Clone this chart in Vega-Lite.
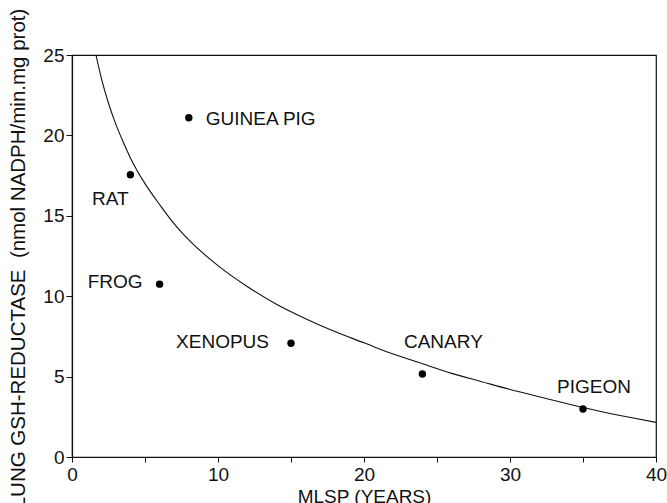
{
  "$schema": "https://vega.github.io/schema/vega-lite/v6.json",
  "autosize": {"type": "none"},
  "width": 584,
  "height": 402,
  "padding": {"left": 72, "top": 55, "right": 11, "bottom": 46},
  "background": "white",
  "config": {
    "view": {"stroke": "#111", "strokeWidth": 1.2},
    "font": "Liberation Sans",
    "axis": {
      "grid": false,
      "domainColor": "#111",
      "tickColor": "#111",
      "labelColor": "#111",
      "titleColor": "#111",
      "labelFont": "Liberation Sans",
      "titleFont": "Liberation Sans",
      "labelFontSize": 19,
      "titleFontSize": 19,
      "titleFontWeight": "normal"
    }
  },
  "datasets": {
    "species": [
      {"name": "GUINEA PIG", "mlsp": 8, "gr": 21.1},
      {"name": "RAT", "mlsp": 4, "gr": 17.55},
      {"name": "FROG", "mlsp": 6, "gr": 10.75},
      {"name": "XENOPUS", "mlsp": 15, "gr": 7.07},
      {"name": "CANARY", "mlsp": 24, "gr": 5.16},
      {"name": "PIGEON", "mlsp": 35, "gr": 2.98}
    ],
    "curve": [
      {"mlsp": 1.64, "gr": 25.0},
      {"mlsp": 2, "gr": 23.6},
      {"mlsp": 2.5, "gr": 22.0},
      {"mlsp": 3, "gr": 20.7},
      {"mlsp": 3.5, "gr": 19.6},
      {"mlsp": 4, "gr": 18.6},
      {"mlsp": 5, "gr": 17.0},
      {"mlsp": 6, "gr": 15.7},
      {"mlsp": 7, "gr": 14.5},
      {"mlsp": 8, "gr": 13.5},
      {"mlsp": 10, "gr": 11.9},
      {"mlsp": 12, "gr": 10.6},
      {"mlsp": 14, "gr": 9.5},
      {"mlsp": 16, "gr": 8.6},
      {"mlsp": 18, "gr": 7.8},
      {"mlsp": 20, "gr": 7.1},
      {"mlsp": 22, "gr": 6.4},
      {"mlsp": 24, "gr": 5.8},
      {"mlsp": 26, "gr": 5.2},
      {"mlsp": 28, "gr": 4.7},
      {"mlsp": 30, "gr": 4.2},
      {"mlsp": 32, "gr": 3.75},
      {"mlsp": 34, "gr": 3.3},
      {"mlsp": 36, "gr": 2.88},
      {"mlsp": 38, "gr": 2.5},
      {"mlsp": 40, "gr": 2.15}
    ]
  },
  "encoding": {
    "x": {
      "field": "mlsp", "type": "quantitative",
      "scale": {"domain": [0, 40], "nice": false, "zero": false},
      "axis": {
        "title": "MLSP (YEARS)",
        "values": [0, 5, 10, 15, 20, 25, 30, 35, 40],
        "labelExpr": "datum.value % 10 === 0 ? datum.label : ''",
        "tickSize": 5, "labelPadding": 3, "labelFlush": false,
        "titleY": 30, "titleBaseline": "top",
        "domainWidth": 1.2
      }
    },
    "y": {
      "field": "gr", "type": "quantitative",
      "scale": {"domain": [0, 25], "nice": false},
      "axis": {
        "title": "LUNG GSH-REDUCTASE \u00a0(nmol NADPH/min.mg prot)",
        "titleFontSize": 20.5,
        "values": [0, 5, 10, 15, 20, 25],
        "tickSize": 6, "labelPadding": 2, "labelFlush": false,
        "titleX": -44, "titleY": 203,
        "domainWidth": 1.2
      }
    }
  },
  "layer": [
    {
      "data": {"name": "curve"},
      "mark": {"type": "line", "color": "#111", "strokeWidth": 1.1, "interpolate": "monotone", "clip": true}
    },
    {
      "data": {"name": "species"},
      "mark": {"type": "circle", "color": "#000", "opacity": 1, "size": 55}
    },
    {
      "data": {"name": "species"},
      "transform": [{"filter": "datum.name === 'GUINEA PIG'"}],
      "mark": {"type": "text", "align": "left", "baseline": "middle", "dx": 17, "dy": 1, "fontSize": 19, "color": "#111"},
      "encoding": {"text": {"field": "name"}}
    },
    {
      "data": {"name": "species"},
      "transform": [{"filter": "datum.name === 'FROG'"}],
      "mark": {"type": "text", "align": "right", "baseline": "middle", "dx": -17, "dy": -2, "fontSize": 19, "color": "#111"},
      "encoding": {"text": {"field": "name"}}
    },
    {
      "data": {"name": "species"},
      "transform": [{"filter": "datum.name === 'XENOPUS'"}],
      "mark": {"type": "text", "align": "right", "baseline": "middle", "dx": -22, "dy": -1, "fontSize": 19, "color": "#111"},
      "encoding": {"text": {"field": "name"}}
    },
    {
      "data": {"name": "species"},
      "transform": [{"filter": "datum.name === 'RAT'"}],
      "mark": {"type": "text", "align": "center", "baseline": "middle", "dx": -20, "dy": 24, "fontSize": 19, "color": "#111"},
      "encoding": {"text": {"field": "name"}}
    },
    {
      "data": {"name": "species"},
      "transform": [{"filter": "datum.name === 'CANARY'"}],
      "mark": {"type": "text", "align": "center", "baseline": "middle", "dx": 21, "dy": -32, "fontSize": 19, "color": "#111"},
      "encoding": {"text": {"field": "name"}}
    },
    {
      "data": {"name": "species"},
      "transform": [{"filter": "datum.name === 'PIGEON'"}],
      "mark": {"type": "text", "align": "center", "baseline": "middle", "dx": 11, "dy": -22, "fontSize": 19, "color": "#111"},
      "encoding": {"text": {"field": "name"}}
    }
  ]
}
